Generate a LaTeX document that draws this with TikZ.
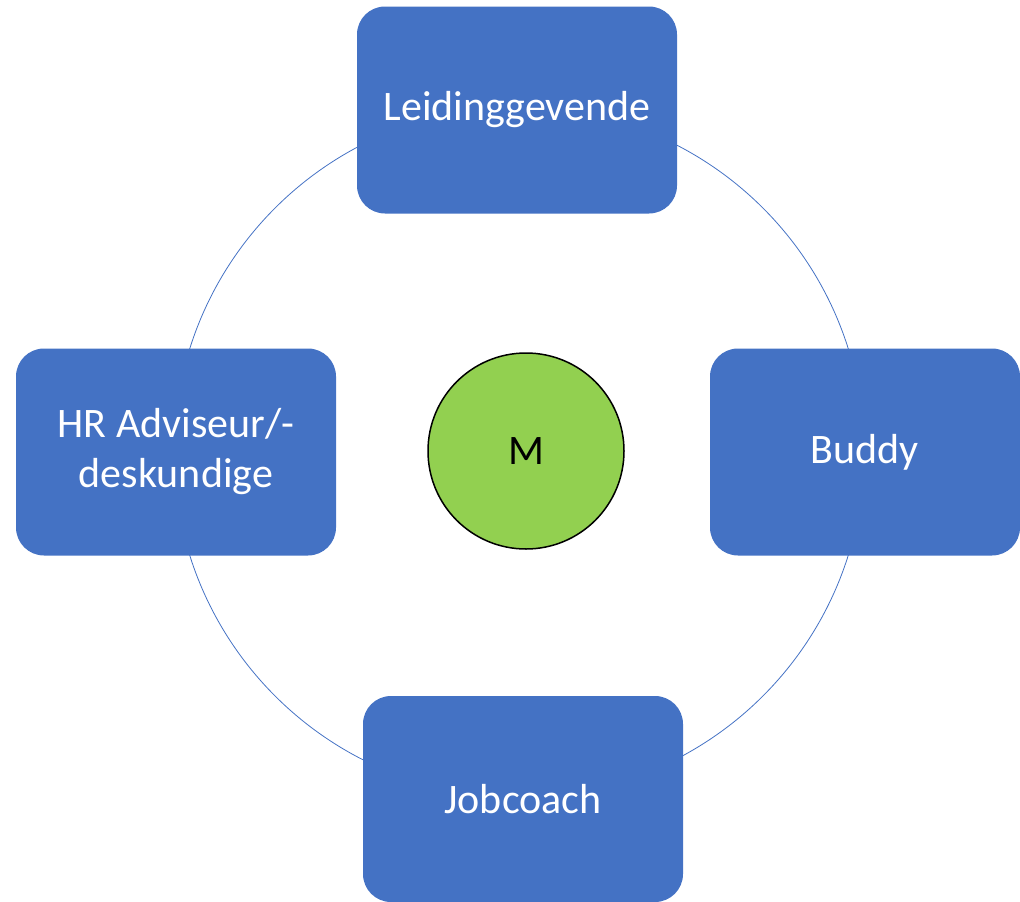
\documentclass[tikz,border=0pt]{standalone}
\usepackage{fontspec}
\setmainfont{Carlito}
\definecolor{officeblue}{HTML}{4472C4}
\definecolor{officegreen}{HTML}{92D050}
\tikzset{
  rolebox/.style={rectangle, rounded corners=28pt, fill=officeblue, text=white,
    minimum width=320pt, minimum height=207pt, align=center,
    font=\fontsize{42}{50}\selectfont},
  personbox/.style={circle, draw=black, line width=1.5pt, fill=officegreen,
    minimum size=196pt, inner sep=0pt, font=\fontsize{42}{50}\selectfont}
}
\begin{document}
\begin{tikzpicture}[x=1pt, y=-1pt]

        % Frame
        \useasboundingbox (0,0) rectangle (1020,902);

        % Ring behind the roles
        \draw[officeblue, line width=0.8pt] (519,452) circle[radius=345];

        % Roles
        \node[rolebox] (lead)  at (517,110) {Leidinggevende};
        \node[rolebox, minimum width=310pt] (buddy) at (865,452) {Buddy};
        \node[rolebox] (hr)    at (176,452) {HR Adviseur/-\\deskundige};
        \node[rolebox, minimum height=206pt] (coach) at (523,799) {Jobcoach};

        % Centre
        \node[personbox] (m) at (526,451) {M};

    \end{tikzpicture}
\end{document}
